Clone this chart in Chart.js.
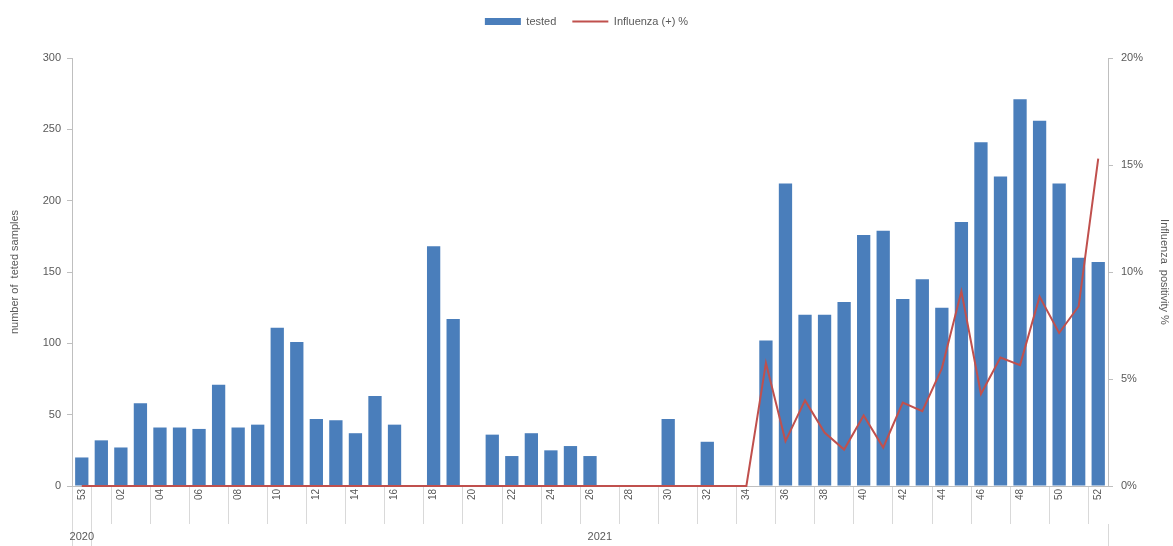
<!DOCTYPE html>
<html>
<head>
<meta charset="utf-8">
<script src="https://cdn.jsdelivr.net/npm/chart.js@4.4.1/dist/chart.umd.min.js"></script>
<style>
html,body{margin:0;padding:0;background:#fff;}
#wrap{width:1173px;height:546px;position:relative;}
</style>
</head>
<body>
<div id="wrap"><canvas id="c"></canvas></div>
<script>
const weeks = ['53','01','02','03','04','05','06','07','08','09','10','11','12','13','14','15','16','17','18','19','20','21','22','23','24','25','26','27','28','29','30','31','32','33','34','35','36','37','38','39','40','41','42','43','44','45','46','47','48','49','50','51','52'];
const years = ['2020', '2021'];
const tested = [20,32,27,58,41,41,40,71,41,43,111,101,47,46,37,63,43,0,168,117,0,36,21,37,25,28,21,0,0,0,47,0,31,0,0,102,212,120,120,129,176,179,131,145,125,185,241,217,271,256,212,160,157];
const positivity = [0,0,0,0,0,0,0,0,0,0,0,0,0,0,0,0,0,0,0,0,0,0,0,0,0,0,0,0,0,0,0,0,0,0,0,5.75,2.1,4.0,2.5,1.7,3.3,1.8,3.9,3.5,5.5,9.1,4.3,6.0,5.65,8.85,7.15,8.4,15.3];

const FONT = '"Liberation Sans Narrow","Liberation Sans","Open Sans",sans-serif';
const TXT = '#595959';
const AX = '#bfbfbf';

const legendSize = {
  id: 'legendSize',
  beforeLayout(chart) {
    const lg = chart.legend;
    if (lg && !lg._patched) {
      const orig = lg.fit;
      lg.fit = function () { orig.call(this); this.height = 58; };
      lg._patched = true;
    }
  }
};

new Chart(document.getElementById('c'), {
  data: {
    labels: weeks,
    datasets: [
      {
        type: 'bar', label: 'tested', data: tested, yAxisID: 'y', xAxisID: 'x',
        backgroundColor: '#4a7ebb', borderWidth: 0,
        barPercentage: 0.68, categoryPercentage: 1.0, order: 1,
        pointStyle: 'rect'
      },
      {
        type: 'line', label: 'Influenza (+) %', data: positivity, yAxisID: 'y1', xAxisID: 'x',
        borderColor: '#c0504d', backgroundColor: '#c0504d', borderWidth: 2,
        pointRadius: 0, tension: 0, order: 0, pointStyle: 'line', clip: 6
      }
    ]
  },
  options: {
    responsive: true, maintainAspectRatio: false, animation: false,
    layout: { padding: 0 },
    plugins: {
      legend: {
        position: 'top', align: 'center',
        labels: {
          usePointStyle: true, pointStyleWidth: 36, boxHeight: 7,
          color: TXT, font: { family: FONT, size: 11 }, padding: 16,
          sort: (a, b) => a.datasetIndex - b.datasetIndex
        }
      },
      tooltip: { enabled: false }
    },
    scales: {
      x: {
        type: 'category', position: 'bottom', weight: 0,
        offset: true,
        grid: {
          offset: true, drawOnChartArea: false, tickLength: 38,
          color: (ctx) => (ctx.index % 2 === 0 || ctx.index === 1 || ctx.index === 53) ? '#d9d9d9' : 'rgba(0,0,0,0)'
        },
        border: { color: AX },
        ticks: {
          autoSkip: false, minRotation: 90, maxRotation: 90, padding: -35,
          color: TXT, font: { family: FONT, size: 10 },
          callback: function (v, i) { return i % 2 === 0 ? this.getLabelForValue(v) : ''; }
        },
        afterFit(s) { s.height = 38; }
      },
      year: {
        type: 'linear', position: 'bottom', weight: 1,
        min: -0.5, max: 52.5,
        afterBuildTicks(s) {
          s.ticks = [{ value: -0.5 }, { value: 0 }, { value: 0.5 }, { value: 26.5 }, { value: 52.5 }];
        },
        grid: {
          drawOnChartArea: false, tickLength: 22,
          color: (ctx) => (ctx.tick && (ctx.tick.value === 0 || ctx.tick.value === 26.5)) ? 'rgba(0,0,0,0)' : '#d9d9d9'
        },
        border: { display: false },
        ticks: {
          autoSkip: false, maxRotation: 0, minRotation: 0, padding: -16,
          color: TXT, font: { family: FONT, size: 11 },
          callback: (v) => v === 0 ? years[0] : (v === 26.5 ? years[1] : '')
        },
        afterFit(s) { s.height = 22; }
      },
      y: {
        type: 'linear', position: 'left', min: 0, max: 300,
        grid: { drawOnChartArea: false, tickLength: 5, color: AX },
        border: { color: AX },
        ticks: { stepSize: 50, color: TXT, font: { family: FONT, size: 11 }, padding: 6 },
        title: { display: true, text: 'number of  teted samples', color: TXT, font: { family: FONT, size: 11 }, padding: { top: 8, bottom: 2 } },
        afterFit(s) { s.width = 72; }
      },
      y1: {
        type: 'linear', position: 'right', min: 0, max: 20,
        grid: { drawOnChartArea: false, tickLength: 5, color: AX },
        border: { color: AX },
        ticks: { stepSize: 5, color: TXT, font: { family: FONT, size: 11 }, padding: 8, callback: (v) => v + '%' },
        title: { display: true, text: 'Influenza  positivity %', color: TXT, font: { family: FONT, size: 11 }, padding: 2 },
        afterFit(s) { s.width = 65; }
      }
    }
  },
  plugins: [legendSize]
});
</script>
</body>
</html>
